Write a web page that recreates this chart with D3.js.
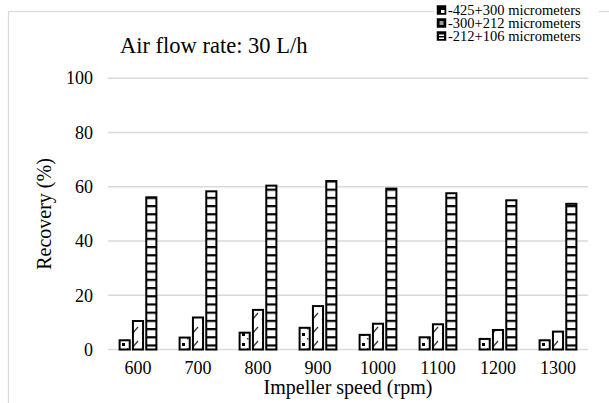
<!DOCTYPE html>
<html><head><meta charset="utf-8">
<script src="https://cdn.jsdelivr.net/npm/d3@7"></script>
<style>body{margin:0;background:#fff}svg{display:block}text{font-family:"Liberation Serif","Times New Roman",serif;fill:#000}</style>
</head><body>
<script>
const categories = ["600","700","800","900","1000","1100","1200","1300"];
const seriesNames = ["-425+300 micrometers","-300+212 micrometers","-212+106 micrometers"];
const coarse = [3.4, 4.4, 6.2, 8.0, 5.4, 4.5, 3.9, 3.4];
const medium = [10.5, 11.8, 14.6, 16.0, 9.5, 9.3, 7.2, 6.6];
const fine = [56.1, 58.3, 60.4, 62.1, 59.3, 57.6, 55.0, 53.7];
const yTicks = [0, 20, 40, 60, 80, 100];
const seriesValues = [coarse, medium, fine];

const W = 609, H = 403;
const svg = d3.select("body").append("svg").attr("width", W).attr("height", H);
const defs = svg.append("defs");

// pattern 1: sparse dots
const p1 = defs.append("pattern").attr("id","p1").attr("patternUnits","userSpaceOnUse").attr("width",10).attr("height",10);
p1.append("rect").attr("width",10).attr("height",10).attr("fill","#fff");
p1.append("rect").attr("x",2).attr("y",3).attr("width",3).attr("height",3).attr("fill","#000");
p1.append("rect").attr("x",7).attr("y",8).attr("width",1.5).attr("height",1.5).attr("fill","#444");
// pattern 2: diagonal dashes
const p2 = defs.append("pattern").attr("id","p2").attr("patternUnits","userSpaceOnUse").attr("width",10).attr("height",14);
p2.append("rect").attr("width",10).attr("height",14).attr("fill","#fff");
p2.append("line").attr("x1",2).attr("y1",12).attr("x2",8).attr("y2",5).attr("stroke","#333").attr("stroke-width",1.2);
// pattern 3: ladder
const p3 = defs.append("pattern").attr("id","p3").attr("patternUnits","userSpaceOnUse").attr("width",12).attr("height",8.2);
p3.append("rect").attr("width",12).attr("height",8.2).attr("fill","#fff");
p3.append("rect").attr("x",0).attr("y",0).attr("width",12).attr("height",2.2).attr("fill","#000");
const fills = ["url(#p1)","url(#p2)","url(#p3)"];

// chart area border
svg.append("rect").attr("x",8.5).attr("y",11.5).attr("width",W).attr("height",H)
  .attr("fill","none").attr("stroke","#d9d9d9").attr("stroke-width",1.2);

const x = d3.scaleBand().domain(categories).range([108, 588]).paddingInner(1/3).paddingOuter(1/6);
const xi = d3.scaleBand().domain(d3.range(3)).range([0, x.bandwidth()]);
const y = d3.scaleLinear().domain([0, 100]).range([349.5, 78.2]);

// gridlines
svg.append("g").selectAll("line").data(yTicks).join("line")
  .attr("x1",108).attr("x2",588).attr("y1",d=>y(d)).attr("y2",d=>y(d))
  .attr("stroke","#d9d9d9").attr("stroke-width",1.5);

// y axis labels
const yAxis = d3.axisLeft(y).tickValues(yTicks).tickSize(0).tickPadding(0);
const yg = svg.append("g").attr("transform","translate(93,0)").call(yAxis).attr("font-family",null);
yg.select(".domain").remove();
yg.selectAll("text").attr("font-size",18).attr("fill","#000");

// x axis labels
const xAxis = d3.axisBottom(x).tickSize(0).tickPadding(0);
const xg = svg.append("g").attr("transform","translate(0,361)").call(xAxis).attr("font-family",null);
xg.select(".domain").remove();
xg.selectAll("text").attr("font-size",18).attr("fill","#000");

// bars
const bars = [];
categories.forEach((c,i)=>seriesValues.forEach((vals,s)=>bars.push({c, s, v: vals[i]})));
svg.append("g").selectAll("rect").data(bars).join("rect")
  .attr("x", d => x(d.c) + xi(d.s) + 1.6)
  .attr("width", xi.bandwidth() - 3.2)
  .attr("y", d => y(d.v))
  .attr("height", d => y(0) - y(d.v))
  .attr("fill", d => fills[d.s])
  .attr("stroke","#000").attr("stroke-width",2);

// titles
svg.append("text").attr("x",120).attr("y",53).attr("font-size",22.5).text("Air flow rate: 30 L/h");
svg.append("text").attr("transform","translate(51,214) rotate(-90)").attr("text-anchor","middle")
  .attr("font-size",20).text("Recovery (%)");
svg.append("text").attr("x",348).attr("y",394).attr("text-anchor","middle").attr("font-size",20).text("Impeller speed (rpm)");

// legend
const lgRoot = svg.append("g");
lgRoot.append("rect").attr("x",434).attr("y",2).attr("width",165).attr("height",42).attr("fill","#fff");
const lg = lgRoot.selectAll("g").data(seriesNames).join("g")
  .attr("transform",(d,i)=>`translate(437,${10 + i*13})`);
lg.append("rect").attr("x",0.5).attr("y",-4).attr("width",8).attr("height",8)
  .attr("fill","#000").attr("stroke","#000").attr("stroke-width",1.5);
lg.filter((d,i)=>i===0).append("rect").attr("x",4).attr("y",0).attr("width",3.5).attr("height",3).attr("fill","#fff");
lg.filter((d,i)=>i===1).append("rect").attr("x",2.5).attr("y",-2).attr("width",4).attr("height",4).attr("fill","#999");
lg.filter((d,i)=>i===2).append("rect").attr("x",2).attr("y",-1.5).attr("width",5).attr("height",1.5).attr("fill","#fff");
lg.filter((d,i)=>i===2).append("rect").attr("x",2).attr("y",1.5).attr("width",5).attr("height",1.5).attr("fill","#fff");
lg.append("text").attr("x",11).attr("y",5).attr("font-size",14.5).text(d=>d);
</script>
</body></html>
